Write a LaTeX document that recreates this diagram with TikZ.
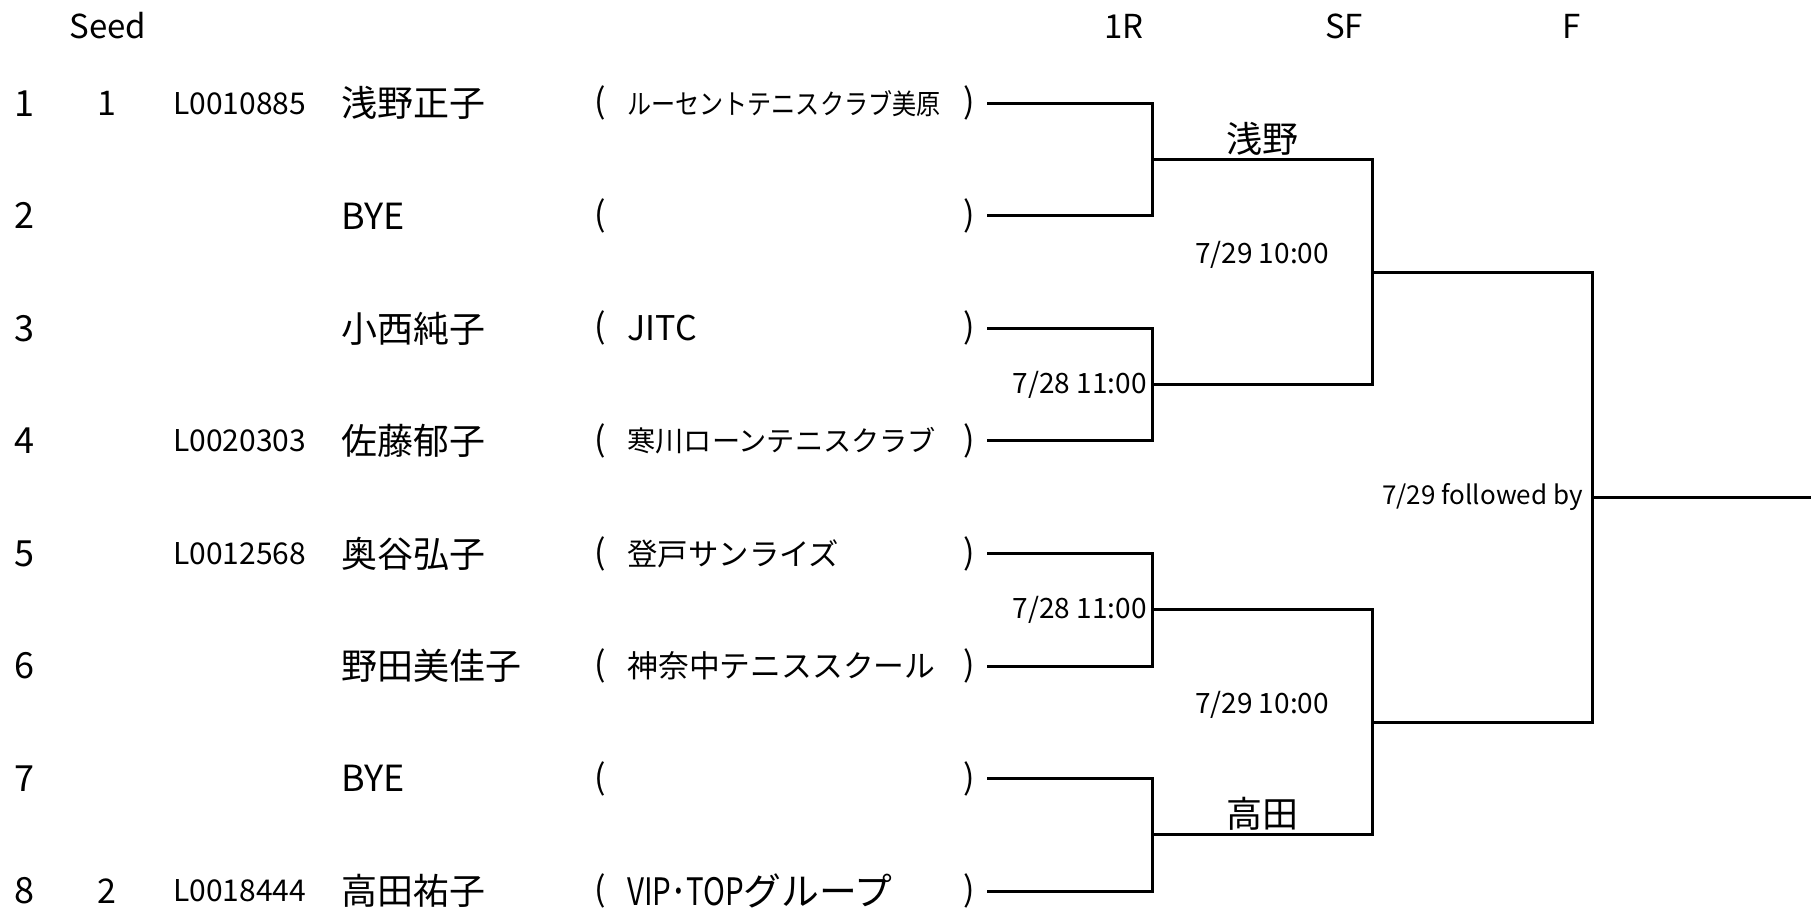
\documentclass[tikz,border=0pt]{standalone}
\usepackage{fontspec}
\usepackage{graphicx}
\setmainfont{Noto Sans CJK JP}
\usetikzlibrary{calc,positioning}

\newcommand{\fsz}[1]{\fontsize{#1}{#1}\selectfont}

\begin{document}
\begin{tikzpicture}[
    x=0.5pt, y=-0.5pt,
    bline/.style={line width=1.5pt, line join=miter},
    head/.style={font=\fsz{16.5}, inner sep=0pt},
    rowno/.style={font=\fsz{18}, inner sep=0pt},
    seedno/.style={font=\fsz{17}, inner sep=0pt},
    pid/.style={font=\fsz{15}, inner sep=0pt, anchor=west},
    pname/.style={font=\fsz{18}, inner sep=0pt, anchor=west},
    paren/.style={font=\fsz{17}, inner sep=0pt},
    club/.style={inner sep=0pt, anchor=west},
    sched/.style={font=\fsz{14}, inner sep=0pt},
    winner/.style={font=\fsz{18}, inner sep=0pt, anchor=south}
]

\fill[white] (0,0) rectangle (1811,910);
\useasboundingbox (0,0) rectangle (1811,910);

% =========================================================================
% COLUMNS AND ROWS
% =========================================================================
\coordinate (colNo)   at (24,0);
\coordinate (colSeed) at (107,0);
\coordinate (colId)   at (173,0);
\coordinate (colName) at (341,0);
\coordinate (colLP)   at (600,0);
\coordinate (colClub) at (627,0);
\coordinate (colRP)   at (969,0);
\coordinate (xSF)     at (1372,0);
\coordinate (xF)      at (1592,0);
\coordinate (xEnd)    at (1811,0);

\foreach \i in {1,...,8}{
    \pgfmathsetmacro{\ry}{103.3+(\i-1)*112.55}
    \coordinate (r\i) at (0,\ry);
    \coordinate (s\i) at (987,\ry);
    \coordinate (e\i) at (1152,\ry);
}

% =========================================================================
% HEADERS
% =========================================================================
\node[head] (hSeed) at (108,26)  {Seed};
\node[head] (h1R)   at (1124,26) {1R};
\node[head] (hSF)   at (1344,26) {SF};
\node[head] (hF)    at (1572,26) {F};

% =========================================================================
% ENTRIES
% =========================================================================
\foreach \i in {1,...,8}{
    \node[rowno] (no\i) at (colNo |- r\i) {\i};
    \node[paren] (lp\i) at (colLP |- r\i) {(};
    \node[paren] (rp\i) at (colRP |- r\i) {)};
}

\node[seedno] (seed1) at (colSeed |- r1) {1};
\node[seedno] (seed8) at (colSeed |- r8) {2};

\node[pid] (id1) at (colId |- r1) {L0010885};
\node[pid] (id4) at (colId |- r4) {L0020303};
\node[pid] (id5) at (colId |- r5) {L0012568};
\node[pid] (id8) at (colId |- r8) {L0018444};

\node[pname] (pl1) at (colName |- r1) {浅野正子};
\node[pname] (pl2) at (colName |- r2) {BYE};
\node[pname] (pl3) at (colName |- r3) {小西純子};
\node[pname] (pl4) at (colName |- r4) {佐藤郁子};
\node[pname] (pl5) at (colName |- r5) {奥谷弘子};
\node[pname] (pl6) at (colName |- r6) {野田美佳子};
\node[pname] (pl7) at (colName |- r7) {BYE};
\node[pname] (pl8) at (colName |- r8) {高田祐子};

\node[club, font=\fsz{14}]    (cl1) at (colClub |- r1) {\scalebox{0.86}[1]{ルーセントテニスクラブ美原}};
\node[club, font=\fsz{17}]    (cl3) at (colClub |- r3) {JITC};
\node[club, font=\fsz{14.1}]  (cl4) at (colClub |- r4) {寒川ローンテニスクラブ};
\node[club, font=\fsz{15.2}]  (cl5) at (colClub |- r5) {登戸サンライズ};
\node[club, font=\fsz{15.4}]  (cl6) at (colClub |- r6) {神奈中テニススクール};
\node[club, font=\fsz{18.9}]  (cl8) at (colClub |- r8) {\scalebox{0.78}[1]{VIP･TOP}グループ};

% =========================================================================
% BRACKET
% =========================================================================
\draw[bline] (s1) -- (e1) -- (e2) -- (s2);
\draw[bline] (s3) -- (e3) -- (e4) -- (s4);
\draw[bline] (s5) -- (e5) -- (e6) -- (s6);
\draw[bline] (s7) -- (e7) -- (e8) -- (s8);

\coordinate (m1) at ($(e1)!.5!(e2)$);
\coordinate (m2) at ($(e3)!.5!(e4)$);
\coordinate (m3) at ($(e5)!.5!(e6)$);
\coordinate (m4) at ($(e7)!.5!(e8)$);

\draw[bline] (m1) -- (m1 -| xSF) -- (m2 -| xSF) -- (m2);
\draw[bline] (m3) -- (m3 -| xSF) -- (m4 -| xSF) -- (m4);

\coordinate (n1) at ($(m1 -| xSF)!.5!(m2 -| xSF)$);
\coordinate (n2) at ($(m3 -| xSF)!.5!(m4 -| xSF)$);

\draw[bline] (n1) -- (n1 -| xF) -- (n2 -| xF) -- (n2);

\coordinate (champ) at ($(n1 -| xF)!.5!(n2 -| xF)$);
\draw[bline] (champ) -- (champ -| xEnd);

% =========================================================================
% RESULTS AND SCHEDULE
% =========================================================================
\node[winner] (win1) at ($(m1)!.5!(m1 -| xSF) + (0,-4)$) {浅野};
\node[winner] (win4) at ($(m4)!.5!(m4 -| xSF) + (0,-4)$) {高田};

\node[sched] (sf1) at ($(n1 -| e1)!.5!(n1) + (0,-17)$) {7/29 10:00};
\node[sched] (sf2) at ($(n2 -| e1)!.5!(n2) + (0,-17)$) {7/29 10:00};

\node[sched, anchor=east] (r1b) at ($(m2) + (-5,0)$) {7/28 11:00};
\node[sched, anchor=east] (r1c) at ($(m3) + (-5,0)$) {7/28 11:00};

\node[sched, font=\fsz{13}, anchor=east] (fin) at ($(champ) + (-9,0)$) {7/29 followed by};

\end{tikzpicture}
\end{document}
